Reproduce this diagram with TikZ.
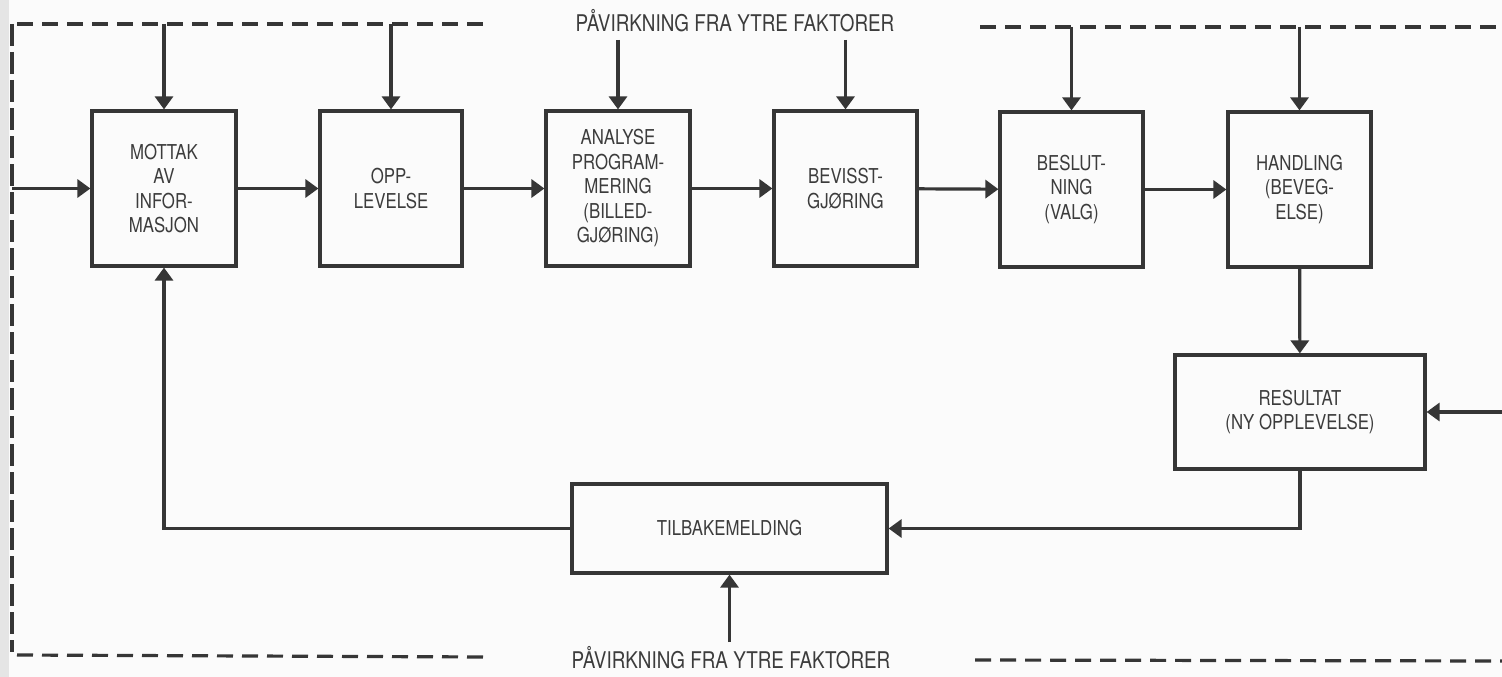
\documentclass[tikz,border=0pt]{standalone}
\usepackage{fontspec}
\setmainfont{TeX Gyre Heros}[FakeStretch=0.82]
\usetikzlibrary{arrows.meta}
\definecolor{ink}{HTML}{363636}
\definecolor{txt}{HTML}{3C3C3C}
\definecolor{paper}{HTML}{FBFBFB}
\begin{document}
\begin{tikzpicture}[x=1pt,y=-1pt,
  box/.style={draw=ink,line width=3.2pt,align=center,text=txt,
    font=\fontsize{20.5}{24.5}\selectfont,inner sep=0pt},
  arr/.style={draw=ink,line width=3.2pt,
    -{Triangle[length=13pt 0,width=18pt 0]}},
  dsh/.style={draw=ink,line width=3.2pt,dash pattern=on 16pt off 9pt},
  vdsh/.style={draw=ink,line width=3.2pt,dash pattern=on 22pt off 6pt},
  lbl/.style={text=txt,font=\fontsize{23}{26}\selectfont,inner sep=0pt}]
\useasboundingbox (0,0) rectangle (1502,677);
\fill[paper] (0,0) rectangle (1502,677);
\fill[black!10] (0,0) rectangle (9,677);

% boxes
\node[box,minimum width=144pt,minimum height=155pt] (b1) at (164,188.5)
  {MOTTAK\\AV\\INFOR-\\MASJON};
\node[box,minimum width=142pt,minimum height=155pt] (b2) at (391,188.5)
  {OPP-\\LEVELSE};
\node[box,minimum width=144pt,minimum height=155pt] (b3) at (618,188.5)
  {ANALYSE\\PROGRAM-\\MERING\\(BILLED-\\GJØRING)};
\node[box,minimum width=143pt,minimum height=155pt] (b4) at (845.5,188.5)
  {BEVISST-\\GJØRING};
\node[box,minimum width=143pt,minimum height=155pt] (b5) at (1071.5,189.5)
  {BESLUT-\\NING\\(VALG)};
\node[box,minimum width=143pt,minimum height=155pt] (b6) at (1299.5,189.5)
  {HANDLING\\(BEVEG-\\ELSE)};
\node[box,minimum width=250pt,minimum height=114pt] (b7) at (1300,412)
  {RESULTAT\\(NY OPPLEVELSE)};
\node[box,minimum width=315pt,minimum height=89pt] (b8) at (729.5,528.5)
  {TILBAKEMELDING};

% labels
\node[lbl] (top) at (735,21) {PÅVIRKNING FRA YTRE FAKTORER};
\node[lbl] (bot) at (731,658) {PÅVIRKNING FRA YTRE FAKTORER};

% frame (dashed)
\coordinate (tlA) at (17,24);  \coordinate (tlB) at (487,24);
\coordinate (trA) at (980,27); \coordinate (trB) at (1502,27);
\coordinate (blA) at (17,655); \coordinate (blB) at (485,657);
\coordinate (brA) at (975,660); \coordinate (brB) at (1502,661);
\coordinate (lvA) at (12,24);  \coordinate (lvB) at (12,652);
\draw[dsh] (tlA) -- (tlB);
\draw[dsh] (trA) -- (trB);
\draw[dsh] (blA) -- (blB);
\draw[dsh] (brA) -- (brB);
\draw[vdsh] (lvA) -- (lvB);

% influences from above
\coordinate (hl) at (0,24);
\coordinate (hm) at (0,40);
\coordinate (hr) at (0,27);
\draw[arr] (b1.north |- hl) -- (b1.north);
\draw[arr] (b2.north |- hl) -- (b2.north);
\draw[arr] (b3.north |- hm) -- (b3.north);
\draw[arr] (b4.north |- hm) -- (b4.north);
\draw[arr] (b5.north |- hr) -- (b5.north);
\draw[arr] (b6.north |- hr) -- (b6.north);

% main chain
\coordinate (in) at (12,188.5);
\draw[arr] (in) -- (b1.west);
\draw[arr] (b1) -- (b2);
\draw[arr] (b2) -- (b3);
\draw[arr] (b3) -- (b4);
\draw[arr] (b4) -- (b5);
\draw[arr] (b5) -- (b6);
\draw[arr] (b6) -- (b7);

% right input into resultat
\coordinate (rin) at (1502,412);
\draw[arr] (rin) -- (b7.east);

% feedback loop
\draw[arr] (b7.south) |- (b8.east);
\draw[arr] (b8.west) -| (b1.south);

% influence from below
\coordinate (bin) at (729.5,642);
\draw[arr] (bin) -- (b8.south);
\end{tikzpicture}
\end{document}
